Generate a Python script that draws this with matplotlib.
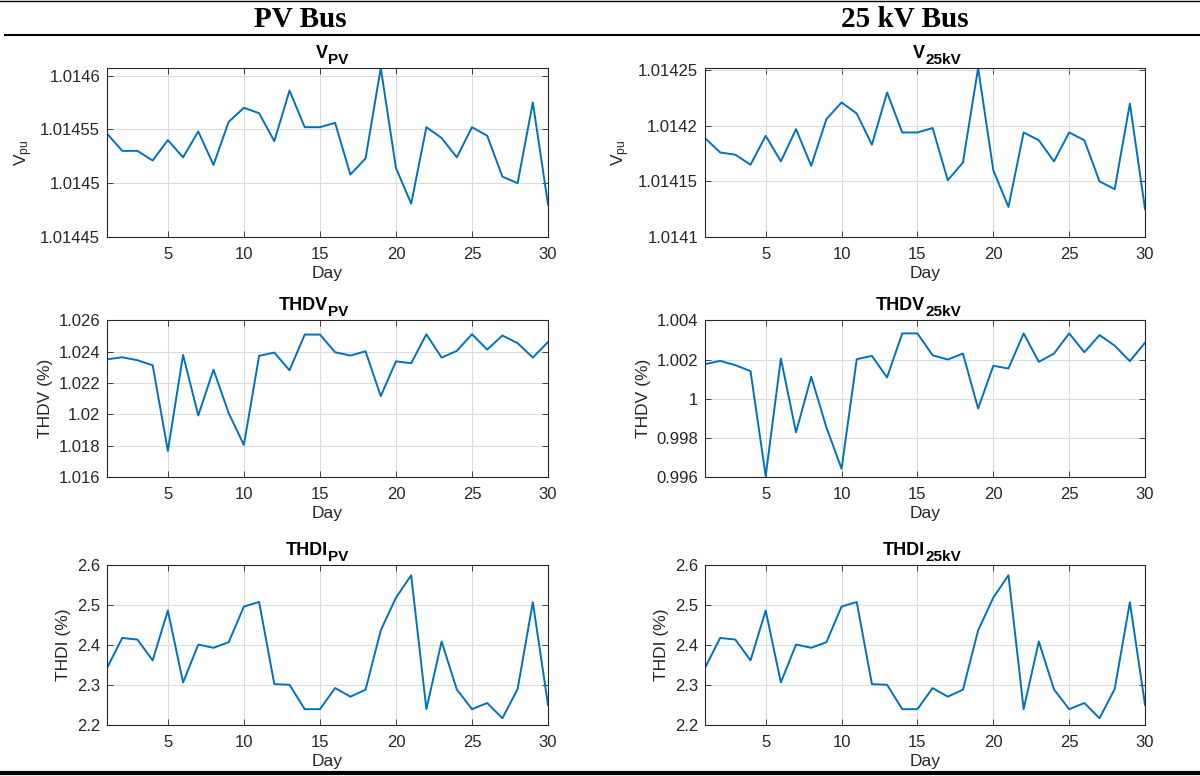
import matplotlib
matplotlib.use('Agg')
import matplotlib.pyplot as plt
from matplotlib.lines import Line2D
from matplotlib.ticker import FuncFormatter

plt.rcParams['font.family'] = ['Liberation Sans', 'DejaVu Sans']
plt.rcParams['mathtext.fontset'] = 'custom'
plt.rcParams['mathtext.rm'] = 'Liberation Sans'
plt.rcParams['mathtext.bf'] = 'Liberation Sans:bold'
plt.rcParams['mathtext.it'] = 'Liberation Sans:italic'

days = list(range(1, 31))

v_pv = [1.014546, 1.014530, 1.014530, 1.014521, 1.014540, 1.014524, 1.014548, 1.014517,
        1.014557, 1.014570, 1.014565, 1.014539, 1.014586, 1.014552, 1.014552, 1.014556,
        1.014508, 1.014523, 1.014607, 1.014514, 1.014481, 1.014552, 1.014542, 1.014524,
        1.014552, 1.014544, 1.014506, 1.014500, 1.014575, 1.014480]

v_25kv = [1.014189, 1.014176, 1.014174, 1.014165, 1.014191, 1.014168, 1.014197, 1.014164,
          1.014206, 1.014221, 1.014211, 1.014183, 1.014230, 1.014194, 1.014194, 1.014198,
          1.014151, 1.014167, 1.014252, 1.014160, 1.014127, 1.014194, 1.014187, 1.014168,
          1.014194, 1.014187, 1.014150, 1.014143, 1.014220, 1.014125]

thdv_pv = [1.02352, 1.02365, 1.02346, 1.02314, 1.01767, 1.02380, 1.01993, 1.02286,
           1.02008, 1.01805, 1.02374, 1.02395, 1.02282, 1.02510, 1.02510, 1.02397,
           1.02376, 1.02403, 1.02117, 1.02339, 1.02327, 1.02512, 1.02363, 1.02406,
           1.02512, 1.02414, 1.02504, 1.02455, 1.02363, 1.02463]

thdv_25kv = [1.001768, 1.001937, 1.001717, 1.001412, 0.996051, 1.002055, 0.998283, 1.001125,
             0.998537, 0.996423, 1.002021, 1.002190, 1.001091, 1.003340, 1.003340, 1.002224,
             1.002004, 1.002309, 0.999501, 1.001683, 1.001548, 1.003340, 1.001886, 1.002309,
             1.003340, 1.002376, 1.003255, 1.002714, 1.001920, 1.002867]

thdi = [2.3427, 2.4177, 2.4136, 2.3616, 2.4862, 2.3064, 2.4012, 2.3930,
        2.4070, 2.4961, 2.5076, 2.3023, 2.3006, 2.2396, 2.2396, 2.2924,
        2.2709, 2.2882, 2.4367, 2.5184, 2.5744, 2.2396, 2.4087, 2.2890,
        2.2396, 2.2550, 2.2170, 2.2900, 2.5070, 2.2500]

xticks = [5, 10, 15, 20, 25, 30]

panels = [
    # (series, title, subscript, ylabel, ylim, yticks, position)
    (v_pv, 'V', 'PV', r'V$_{\mathrm{pu}}$', (1.01445, max(v_pv)),
     [1.01445, 1.0145, 1.01455, 1.0146], [0.0892, 0.6946, 0.3675, 0.2178]),
    (v_25kv, 'V', '25kV', r'V$_{\mathrm{pu}}$', (1.0141, max(v_25kv)),
     [1.0141, 1.01415, 1.0142, 1.01425], [0.5875, 0.6946, 0.3667, 0.2178]),
    (thdv_pv, 'THDV', 'PV', 'THDV (%)', (1.016, 1.026),
     [1.016, 1.018, 1.02, 1.022, 1.024, 1.026], [0.0892, 0.3853, 0.3675, 0.2017]),
    (thdv_25kv, 'THDV', '25kV', 'THDV (%)', (0.996, 1.004),
     [0.996, 0.998, 1.0, 1.002, 1.004], [0.5875, 0.3853, 0.3667, 0.2017]),
    (thdi, 'THDI', 'PV', 'THDI (%)', (2.2, 2.6),
     [2.2, 2.3, 2.4, 2.5, 2.6], [0.0892, 0.0657, 0.3675, 0.2062]),
    (thdi, 'THDI', '25kV', 'THDI (%)', (2.2, 2.6),
     [2.2, 2.3, 2.4, 2.5, 2.6], [0.5875, 0.0657, 0.3667, 0.2062]),
]

fig = plt.figure(figsize=(12, 7.76), dpi=100)
dark = '#262626'

for vals, main, sub, ylab, ylim, yt, pos in panels:
    ax = fig.add_axes(pos)
    ax.plot(days, vals, color='#0072BD', lw=1.4)
    ax.set_xlim(1, 30)
    ax.set_ylim(*ylim)
    ax.set_xticks(xticks)
    ax.set_yticks(yt)
    ax.yaxis.set_major_formatter(FuncFormatter(lambda v, p: '%.6g' % v))
    ax.grid(True, color='#dcdcdc', lw=0.8)
    ax.set_axisbelow(True)
    ax.tick_params(direction='in', top=True, right=True, labelsize=12,
                   colors=dark, length=4, width=0.6, pad=5)
    ax.tick_params(axis='x', pad=7)
    for s in ax.spines.values():
        s.set_color(dark)
        s.set_linewidth(0.8)
    # MATLAB style title with a large subscript
    ax.annotate(main, xy=(0.5, 1.0), xycoords='axes fraction', xytext=(0, 7.5),
                textcoords='offset points', ha='right', va='baseline',
                fontsize=13, fontweight='bold')
    ax.annotate(sub, xy=(0.5, 1.0), xycoords='axes fraction', xytext=(0, 3),
                textcoords='offset points', ha='left', va='baseline',
                fontsize=11, fontweight='bold')
    ax.set_xlabel('Day', fontsize=12.5, color=dark, labelpad=3)
    ax.set_ylabel(ylab, fontsize=12.5, color=dark, labelpad=4)

# table-like header rules
fig.add_artist(Line2D([0, 1], [0.9985, 0.9985], color='black', lw=1.0,
                      transform=fig.transFigure))
fig.add_artist(Line2D([0.004, 1], [0.955, 0.955], color='black', lw=1.5,
                      transform=fig.transFigure))
fig.add_artist(Line2D([0, 1], [0.004, 0.004], color='black', lw=3,
                      transform=fig.transFigure))

fig.text(0.25, 0.975, 'PV Bus', ha='center', va='center', fontsize=21,
         fontweight='bold', family='Liberation Serif')
fig.text(0.754, 0.975, '25 kV Bus', ha='center', va='center', fontsize=21,
         fontweight='bold', family='Liberation Serif')

fig.savefig('out.png', dpi=100)
